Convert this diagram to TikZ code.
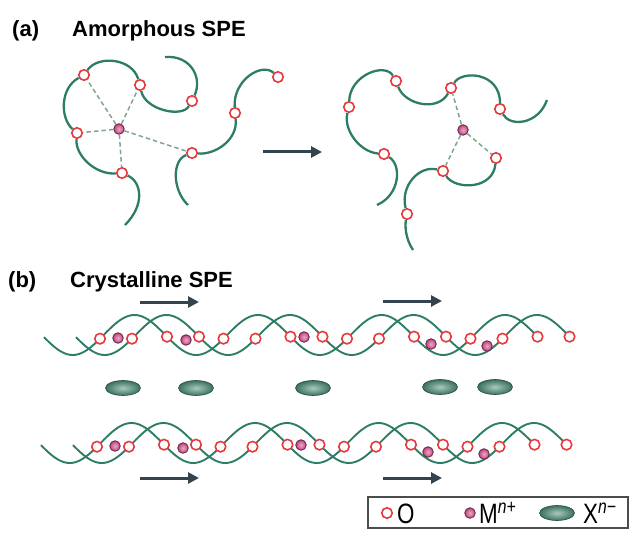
\documentclass[tikz,border=0pt]{standalone}
\usepackage{fontspec}
\setmainfont{Liberation Sans}
\newfontfamily\legfont[FakeStretch=0.8]{Liberation Sans}
\usetikzlibrary{arrows.meta,shapes.geometric}
\definecolor{chain}{HTML}{2D7D64}
\definecolor{ored}{HTML}{E5393D}
\definecolor{mpink}{HTML}{C4447E}
\definecolor{mrim}{HTML}{6B2A4A}
\definecolor{arrowc}{HTML}{34444E}
\definecolor{dashc}{HTML}{7FA595}
\definecolor{xdark}{HTML}{3B7060}
\definecolor{xlight}{HTML}{A8CBBD}
\tikzset{
  chainline/.style={draw=chain, line width=2.3pt},
  helixline/.style={draw=chain, line width=1.9pt},
  ocirc/.style={circle, draw=ored, fill=white, line width=1.6pt, minimum size=10.5pt, inner sep=0pt},
  mion/.style={circle, draw=mrim, inner color=mpink!45!white, outer color=mpink, line width=0.9pt, minimum size=10.5pt, inner sep=0pt},
  xion/.style={ellipse, draw=xdark!70!black, inner color=xlight, outer color=xdark, line width=0.6pt, minimum width=35pt, minimum height=15pt, inner sep=0pt},
  coordline/.style={draw=dashc, line width=1.5pt, dash pattern=on 4.5pt off 3pt},
  bigarrow/.style={draw=arrowc, line width=3pt, -{Triangle[length=11pt,width=11pt]}},
  title/.style={font=\bfseries\fontsize{22}{24}\selectfont, anchor=base west, inner sep=0pt},
  legtext/.style={font=\legfont\fontsize{28}{30}\selectfont, anchor=base west, inner sep=0pt},
}
\begin{document}
\begin{tikzpicture}[x=1pt,y=-1pt]
\useasboundingbox (0,0) rectangle (636,537);
% ---------- titles
\node[title] (la) at (12,37) {(a)};
\node[title] (ta) at (72,37) {Amorphous SPE};
\node[title] (lb) at (8,287) {(b)};
\node[title] (tb) at (70,287) {Crystalline SPE};
% ---------- (a) left cluster
\node[ocirc] (l1) at (84,75) {};
\node[ocirc] (l2) at (140,85) {};
\node[ocirc] (l3) at (192,101) {};
\node[ocirc] (l4) at (278,77) {};
\node[ocirc] (l5) at (235,113) {};
\node[ocirc] (l6) at (77,133) {};
\node[ocirc] (l7) at (192,153) {};
\node[ocirc] (l8) at (122,173) {};
\node[mion] (lm) at (119,129) {};
\coordinate (le1) at (125,225);
\coordinate (le2) at (165,57);
\coordinate (le3) at (188,205);
\draw[chainline] (le1) .. controls (145,205) and (142,182) .. (l8);
\draw[chainline] (l8) .. controls (95,175) and (75,155) .. (l6);
\draw[chainline] (l6) .. controls (60,118) and (60,88) .. (l1);
\draw[chainline] (l1) .. controls (98,55) and (132,58) .. (l2);
\draw[chainline] (l2) .. controls (145,110) and (182,118) .. (l3);
\draw[chainline] (l3) .. controls (203,77) and (190,55) .. (le2);
\draw[chainline] (le3) .. controls (172,190) and (172,160) .. (l7);
\draw[chainline] (l7) .. controls (215,155) and (238,140) .. (l5);
\draw[chainline] (l5) .. controls (233,80) and (262,62) .. (l4);
\foreach \t in {l1,l2,l6,l7,l8} \draw[coordline] (lm) -- (\t);
% arrow (a)
\coordinate (aa1) at (263,152);
\coordinate (aa2) at (322,152);
\draw[bigarrow] (aa1) -- (aa2);
% ---------- (a) right cluster
\node[ocirc] (r1) at (349,107) {};
\node[ocirc] (r2) at (396,81) {};
\node[ocirc] (r3) at (451,88) {};
\node[ocirc] (r4) at (500,109) {};
\node[ocirc] (r5) at (384,154) {};
\node[ocirc] (r6) at (407,214) {};
\node[ocirc] (r7) at (443,171) {};
\node[ocirc] (r8) at (496,158) {};
\node[mion] (rm) at (463,130) {};
\coordinate (re1) at (377,205);
\coordinate (re2) at (547,100);
\coordinate (re3) at (413,250);
\draw[chainline] (re1) .. controls (400,195) and (402,165) .. (r5);
\draw[chainline] (r5) .. controls (360,152) and (343,130) .. (r1);
\draw[chainline] (r1) .. controls (350,75) and (385,62) .. (r2);
\draw[chainline] (r2) .. controls (405,105) and (438,112) .. (r3);
\draw[chainline] (r3) .. controls (462,70) and (500,72) .. (r4);
\draw[chainline] (r4) .. controls (510,127) and (538,125) .. (re2);
\draw[chainline] (re3) .. controls (405,238) and (405,225) .. (r6);
\draw[chainline] (r6) .. controls (400,185) and (420,165) .. (r7);
\draw[chainline] (r7) .. controls (455,190) and (493,190) .. (r8);
\foreach \t in {r3,r7,r8} \draw[coordline] (rm) -- (\t);
% ---------- (b) helices, top row and bottom row
\foreach \row/\dx/\dy in {t/0/0, b/-3/108}{
  \begin{scope}[shift={(\dx,\dy)}]
    \draw[helixline] plot[domain=44:537.5, samples=220, smooth] (\x, {335-20*cos(2.91498*(\x-134.5))});
    \draw[helixline] plot[domain=76:569.5, samples=220, smooth] (\x, {335-20*cos(2.91498*(\x-166.5))});
    \foreach \k in {0,1,2,3}{
      \pgfmathsetmacro{\xa}{100+123.5*\k}
      \pgfmathsetmacro{\xb}{167+123.5*\k}
      \pgfmathsetmacro{\xc}{132+123.5*\k}
      \pgfmathsetmacro{\xd}{199+123.5*\k}
      \pgfmathsetmacro{\ya}{335-20*cos(2.91498*(\xa-134.5))}
      \pgfmathsetmacro{\yb}{335-20*cos(2.91498*(\xb-134.5))}
      \pgfmathsetmacro{\yc}{335-20*cos(2.91498*(\xc-166.5))}
      \pgfmathsetmacro{\yd}{335-20*cos(2.91498*(\xd-166.5))}
      \node[ocirc] (o\row ar\k) at (\xa,\ya) {};
      \node[ocirc] (o\row af\k) at (\xb,\yb) {};
      \node[ocirc] (o\row br\k) at (\xc,\yc) {};
      \node[ocirc] (o\row bf\k) at (\xd,\yd) {};
    }
    \node[mion] (m\row 1) at (118,338) {};
    \node[mion] (m\row 2) at (186,340) {};
    \node[mion] (m\row 3) at (304,337) {};
    \node[mion] (m\row 4) at (431,344) {};
    \node[mion] (m\row 5) at (487,346) {};
  \end{scope}
}
% anions
\node[xion] (x1) at (123,388) {};
\node[xion] (x2) at (196,388) {};
\node[xion] (x3) at (313,388) {};
\node[xion] (x4) at (440,387) {};
\node[xion] (x5) at (495,387) {};
% arrows (b)
\coordinate (ba1) at (140,302); \coordinate (ba2) at (199,302);
\coordinate (ba3) at (383,301); \coordinate (ba4) at (442,301);
\coordinate (ba5) at (140,478); \coordinate (ba6) at (199,478);
\coordinate (ba7) at (383,478); \coordinate (ba8) at (442,478);
\draw[bigarrow] (ba1) -- (ba2);
\draw[bigarrow] (ba3) -- (ba4);
\draw[bigarrow] (ba5) -- (ba6);
\draw[bigarrow] (ba7) -- (ba8);
% ---------- legend
\node[draw=black!70, line width=1.3pt, rectangle, minimum width=260pt, minimum height=31pt, inner sep=0pt] (leg) at (498,512.5) {};
\node[ocirc] (lgo) at (387,513) {};
\node[legtext] (lgot) at (397,523) {O};
\node[mion] (lgm) at (470,513) {};
\node[legtext] (lgmt) at (479,523) {M\textsuperscript{\itshape n+}};
\node[xion] (lgx) at (557,513) {};
\node[legtext] (lgxt) at (583,523) {X\textsuperscript{\itshape n−}};
\end{tikzpicture}
\end{document}
